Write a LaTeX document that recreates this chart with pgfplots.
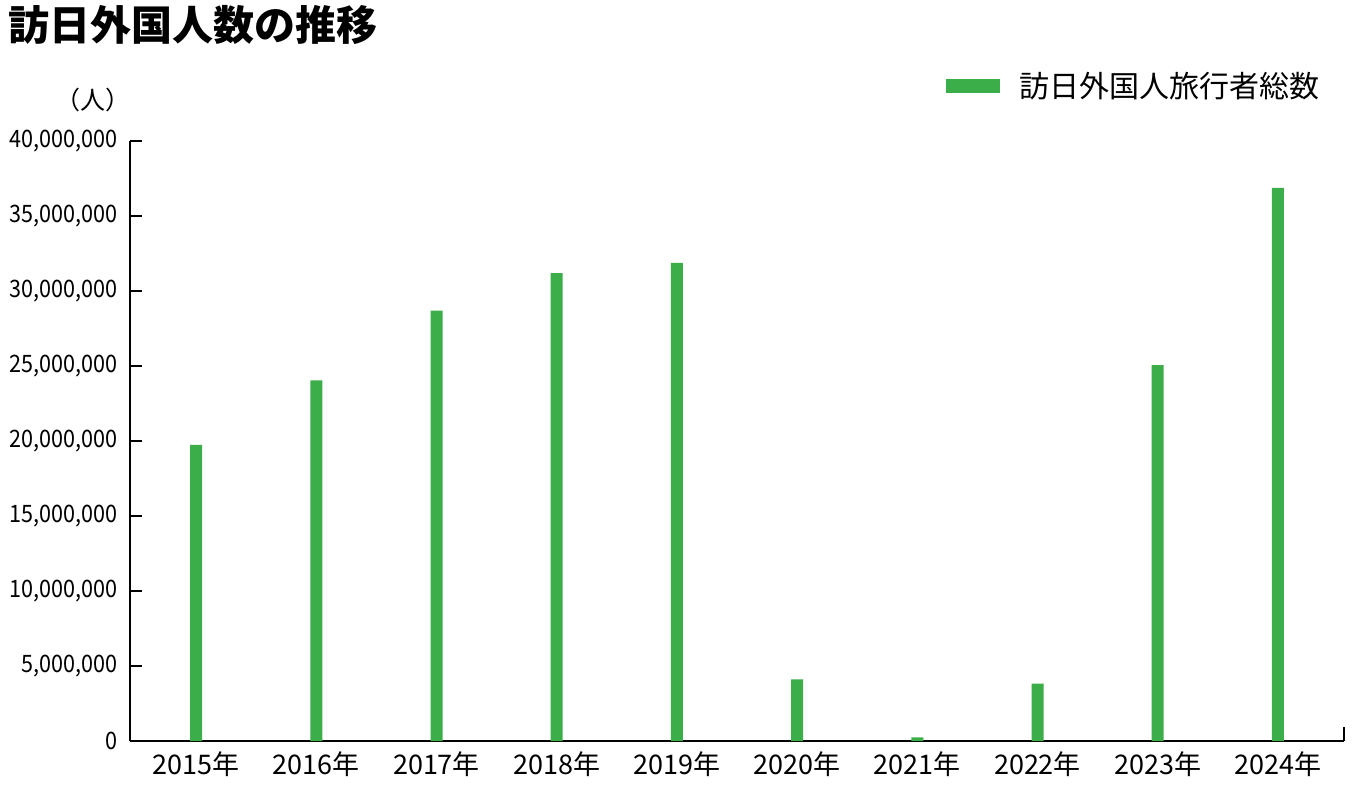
\documentclass[border=0pt]{standalone}
\usepackage{fontspec}
\setmainfont{Noto Sans CJK JP}
\newfontfamily\condfont{Noto Sans CJK JP}[FakeStretch=0.9]
\usepackage{pgfplots}
\pgfplotsset{compat=1.18}
\usetikzlibrary{calc}
\definecolor{bargreen}{RGB}{59,174,73}

\begin{document}
\begin{tikzpicture}
	\begin{axis}[
			name=ax,
			scale only axis,
			width=607pt,
			height=300pt,
			xmin=-0.55, xmax=9.55,
			ymin=0, ymax=40000000,
			axis x line*=bottom,
			axis y line*=left,
			axis line style={line width=1pt},
			x axis line style={-},
			y axis line style={-},
			xtick={0,...,9},
			xticklabels={2015年,2016年,2017年,2018年,2019年,2020年,2021年,2022年,2023年,2024年},
			major x tick style={draw=none},
			x tick label style={font=\fontsize{13.5pt}{15pt}\selectfont, yshift=-2pt},
			ytick={0,5000000,...,40000000},
			scaled y ticks=false,
			y tick label style={font=\condfont\fontsize{12pt}{14pt}\selectfont, inner sep=0pt, xshift=-6pt,
				/pgf/number format/.cd, fixed, 1000 sep={,}, assume math mode=true},
			tick align=inside,
			major tick length=6pt,
			major y tick style={line width=1pt, black},
			clip=false,
			legend style={draw=none, fill=none, inner sep=0pt,
				at={(rel axis cs:0.98,1.0917)}, anchor=east,
				font=\fontsize{15pt}{17pt}\selectfont,
				nodes={inner sep=0pt}},
			legend image code/.code={\fill[bargreen] (0pt,-3.5pt) rectangle (27pt,3.5pt);},
			legend cell align=left,
			/tikz/every odd column/.append style={column sep=9.5pt},
		]
		\addplot[ybar, bar width=6pt, bar shift=0pt, fill=bargreen, draw=none] coordinates {
			(0,19737409)
			(1,24039700)
			(2,28691073)
			(3,31191856)
			(4,31882049)
			(5,4115828)
			(6,245862)
			(7,3832110)
			(8,25066350)
			(9,36869908)
		};
		\addlegendentry{訪日外国人旅行者総数}
		% closing tick at the right end of the x axis
		\draw[line width=1pt] (rel axis cs:1,0) -- ([yshift=7pt]rel axis cs:1,0);
		\node[font=\fontsize{12.5pt}{14pt}\selectfont] at ([xshift=-18.5pt,yshift=20.5pt]rel axis cs:0,1) {（人）};
		\node[font=\fontsize{20.5pt}{22pt}\selectfont\bfseries, anchor=west, inner sep=0pt]
			at ([xshift=-61pt,yshift=58pt]rel axis cs:0,1) {訪日外国人数の推移};
	\end{axis}
	\pgfresetboundingbox
	\path[use as bounding box] ($(ax.south west)+(-65pt,-28.5pt)$) rectangle ($(ax.north east)+(8pt,70.5pt)$);
\end{tikzpicture}
\end{document}
